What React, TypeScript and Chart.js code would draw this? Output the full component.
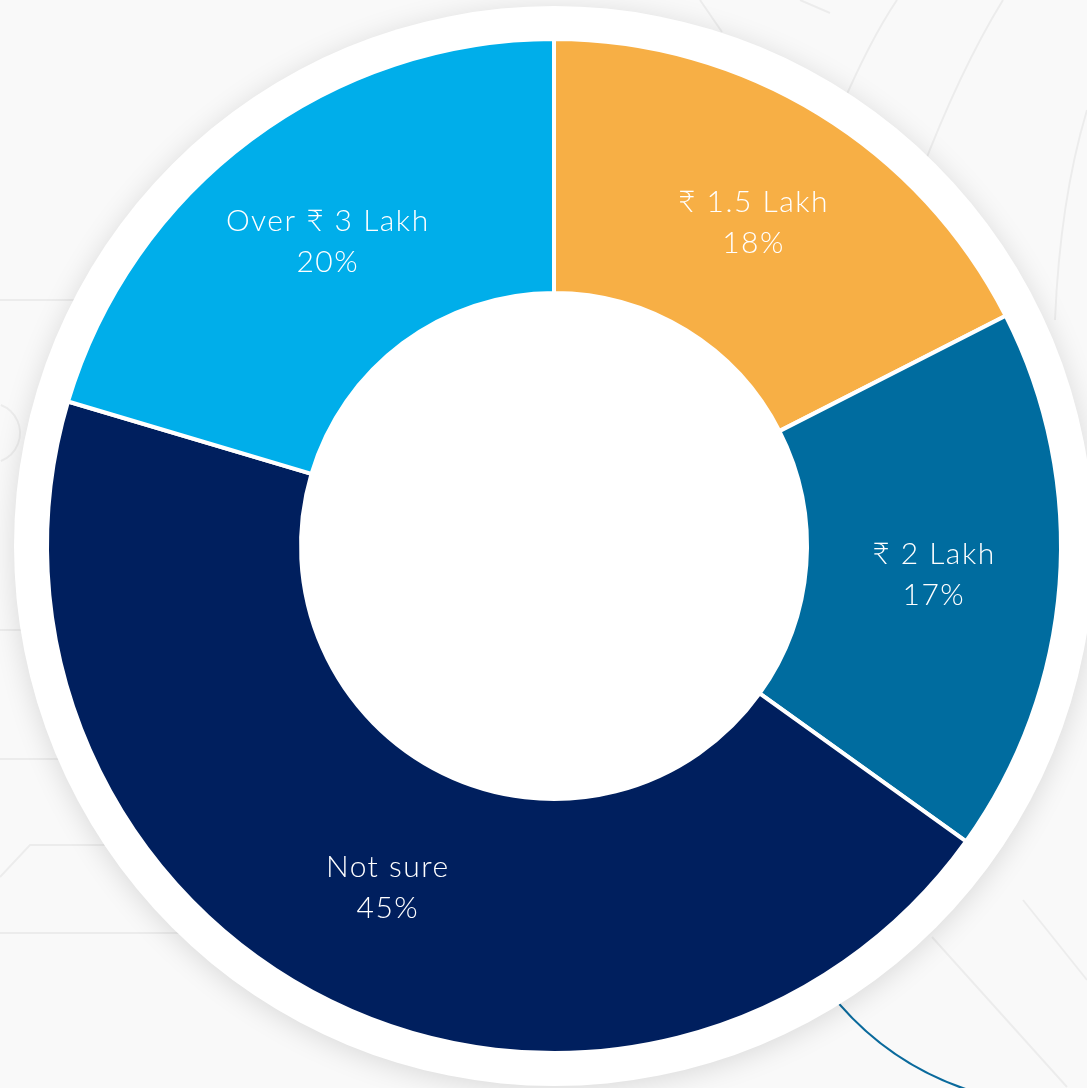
import React, { useEffect, useRef } from "react";
import { Chart, registerables } from "chart.js";

Chart.register(...registerables);

const categories = ["₹ 1.5 Lakh", "₹ 2 Lakh", "Not sure", "Over ₹ 3 Lakh"];
const shares = [17.5, 17.4, 44.7, 20.4];
const percentLabels = ["18%", "17%", "45%", "20%"];
const sliceColors = ["#F7AF45", "#006C9F", "#001F5E", "#00AEEA"];

const LABEL_FONT = '300 30px "Lato", "DejaVu Sans", sans-serif';

const backgroundPlugin = {
  id: "pageBackground",
  beforeDraw(chart: any) {
    const ctx = chart.ctx as CanvasRenderingContext2D;
    const W = chart.width;
    const H = chart.height;
    ctx.save();
    ctx.fillStyle = "#f9f9f9";
    ctx.fillRect(0, 0, W, H);

    // faint decorative lines
    ctx.strokeStyle = "rgba(0,0,0,0.05)";
    ctx.lineWidth = 2;
    const lines: number[][] = [
      [0, 300, 120, 300],
      [0, 630, 60, 630],
      [0, 759, 80, 759],
      [0, 877, 30, 845, 140, 845],
      [0, 933, 200, 933],
      [700, 0, 722, 32],
      [800, 0, 830, 13],
      [932, 937, 1067, 1087],
      [1023, 900, 1087, 980],
    ];
    for (const l of lines) {
      ctx.beginPath();
      ctx.moveTo(l[0], l[1]);
      for (let i = 2; i < l.length; i += 2) ctx.lineTo(l[i], l[i + 1]);
      ctx.stroke();
    }
    ctx.beginPath();
    ctx.moveTo(897, 0);
    ctx.quadraticCurveTo(870, 40, 840, 110);
    ctx.stroke();
    ctx.beginPath();
    ctx.moveTo(1003, 0);
    ctx.quadraticCurveTo(960, 70, 920, 175);
    ctx.stroke();
    ctx.beginPath();
    ctx.moveTo(1087, 110);
    ctx.quadraticCurveTo(1060, 200, 1055, 320);
    ctx.stroke();
    ctx.beginPath();
    ctx.arc(-10, 433, 30, -1.2, 1.2);
    ctx.stroke();

    // blue decorative arc
    ctx.strokeStyle = "#0A6A9C";
    ctx.lineWidth = 2.2;
    ctx.beginPath();
    ctx.arc(1061, 811, 294, (108 * Math.PI) / 180, (139 * Math.PI) / 180);
    ctx.stroke();

    // white disc behind the doughnut, with soft shadow
    const meta = chart.getDatasetMeta(0);
    const arc: any = meta && meta.data && meta.data[0];
    if (arc) {
      const cx = arc.x;
      const cy = arc.y;
      const r = arc.outerRadius + 33;
      ctx.shadowColor = "rgba(0,0,0,0.13)";
      ctx.shadowBlur = 28;
      ctx.shadowOffsetX = 0;
      ctx.shadowOffsetY = 4;
      ctx.fillStyle = "#ffffff";
      ctx.beginPath();
      ctx.arc(cx, cy, r, 0, Math.PI * 2);
      ctx.fill();
    }
    ctx.restore();
  },
};

const labelPlugin = {
  id: "sliceLabels",
  afterDatasetsDraw(chart: any) {
    const ctx = chart.ctx as any;
    const meta = chart.getDatasetMeta(0);
    ctx.save();
    ctx.fillStyle = "#ffffff";
    ctx.font = LABEL_FONT;
    ctx.letterSpacing = "1.5px";
    ctx.textAlign = "center";
    ctx.textBaseline = "middle";
    meta.data.forEach((el: any, i: number) => {
      const p = el.tooltipPosition();
      ctx.fillText(categories[i], p.x + 1, p.y - 20);
      ctx.fillText(percentLabels[i], p.x + 1, p.y + 21);
    });
    ctx.restore();
  },
};

export default function App() {
  const canvasRef = useRef<HTMLCanvasElement | null>(null);

  useEffect(() => {
    if (!canvasRef.current) return;
    const chart = new Chart(canvasRef.current, {
      type: "doughnut",
      data: {
        labels: categories,
        datasets: [
          {
            data: shares,
            backgroundColor: sliceColors,
            borderColor: "#ffffff",
            borderWidth: 4,
            hoverOffset: 0,
          },
        ],
      },
      options: {
        animation: false,
        responsive: true,
        maintainAspectRatio: false,
        cutout: "49.9%",
        rotation: 0,
        layout: { padding: { left: 45, top: 37, right: 24, bottom: 33 } },
        plugins: {
          legend: { display: false },
          tooltip: { enabled: false },
          title: { display: false },
        },
        events: [],
      },
      plugins: [backgroundPlugin, labelPlugin],
    });
    return () => chart.destroy();
  }, []);

  return (
    <div style={{ position: "fixed", left: 0, top: 0, width: 1087, height: 1088 }}>
      <canvas ref={canvasRef} />
    </div>
  );
}
